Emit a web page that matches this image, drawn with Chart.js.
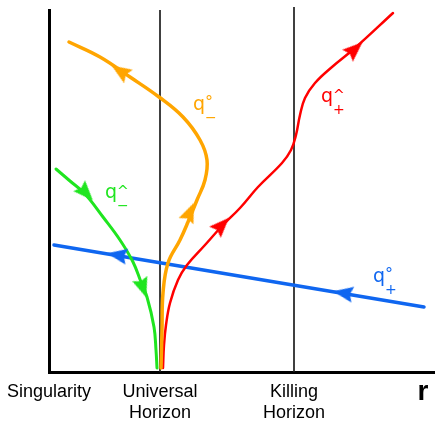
<!DOCTYPE html>
<html>
<head>
<meta charset="utf-8">
<script src="https://cdn.jsdelivr.net/npm/chart.js@4.4.0/dist/chart.umd.min.js"></script>
<style>
  html, body { margin: 0; padding: 0; background: #fff; }
  #wrap { width: 435px; height: 424px; position: relative; }
</style>
</head>
<body>
<div id="wrap"><canvas id="c"></canvas></div>
<script>
// ---- data (r: radial coordinate, t: vertical coordinate) ----
const tickValues = [0, 111, 245, 374];
const tickLabels = ['Singularity', ['Universal', 'Horizon'], ['Killing', 'Horizon'], 'r'];

const universalHorizon = [{x: 111, y: 0}, {x: 111, y: 362}];
const killingHorizon   = [{x: 245, y: 0}, {x: 245, y: 365}];

const qMinusCirc = [ // orange
  {x: 20, y: 330}, {x: 51, y: 315}, {x: 81, y: 295}, {x: 110, y: 275}, {x: 134, y: 255},
  {x: 151, y: 232}, {x: 158, y: 212}, {x: 156, y: 192}, {x: 148, y: 172}, {x: 139, y: 150},
  {x: 131, y: 132}, {x: 119, y: 109}, {x: 114, y: 79}, {x: 113, y: 42}, {x: 112, y: 4}
];
const qMinusHat = [ // green
  {x: 7, y: 203}, {x: 21, y: 191}, {x: 36, y: 178}, {x: 54, y: 155}, {x: 71, y: 132},
  {x: 84, y: 110}, {x: 92, y: 90}, {x: 98, y: 75}, {x: 105, y: 45}, {x: 107, y: 22}, {x: 108, y: 4}
];
const qPlusHat = [ // red
  {x: 114, y: 4}, {x: 115, y: 27}, {x: 117, y: 47}, {x: 121, y: 69}, {x: 129, y: 92},
  {x: 138, y: 107}, {x: 156, y: 127}, {x: 173, y: 146}, {x: 191, y: 164}, {x: 209, y: 185},
  {x: 233, y: 209}, {x: 242, y: 222}, {x: 247, y: 237}, {x: 251, y: 257}, {x: 256, y: 274},
  {x: 266, y: 289}, {x: 283, y: 305}, {x: 306, y: 324}, {x: 344, y: 359}
];
const qPlusCirc = [ // blue
  {x: 5, y: 127}, {x: 375, y: 65}
];

// arrow heads: position on curve and heading (degrees, clockwise from up)
const arrowsOrange = [{x: 71, y: 301}, {x: 141, y: 160}];
const arrowsOrangeDir = [-57, 23];
const arrowsGreen = [{x: 37, y: 179}, {x: 94, y: 84}];
const arrowsGreenDir = [137, 161];
const arrowsRed = [{x: 173, y: 147}, {x: 306, y: 323}];
const arrowsRedDir = [44, 48];
const arrowsBlue = [{x: 68, y: 117}, {x: 294, y: 79}];
const arrowsBlueDir = [-80, -80];

// curve labels
const curveLabels = [
  {sup: '°', sub: '−', color: 'orange', x: 144, y: 262},
  {sup: '^', sub: '−', color: 'green',  x: 56,  y: 174},
  {sup: '^', sub: '+', color: 'red',    x: 272, y: 270},
  {sup: '°', sub: '+', color: 'blue',   x: 324, y: 90}
];

// ---- styles ----
const COLORS = { orange: '#FFA500', green: '#1FE51F', red: '#FF0000', blue: '#0F66F0' };
const FONT = "'Liberation Sans', Arial, sans-serif";

function makeArrow(color) {
  const c = document.createElement('canvas');
  c.width = 16; c.height = 20;
  const g = c.getContext('2d');
  g.fillStyle = color;
  g.beginPath();
  g.moveTo(8, 0);
  g.lineTo(16, 20);
  g.lineTo(8, 17);
  g.lineTo(0, 20);
  g.closePath();
  g.fill();
  return c;
}

function curve(data, color, width) {
  return { data, showLine: true, borderColor: color, borderWidth: width, pointRadius: 0,
           tension: 0.4, borderCapStyle: 'round', borderJoinStyle: 'round', fill: false, order: 5 };
}
function arrows(data, dirs, color) {
  return { data, showLine: false, pointStyle: makeArrow(color), pointRadius: 5,
           pointRotation: dirs, order: 0 };
}
function horizon(data) {
  return { data, showLine: true, borderColor: 'rgba(30,30,30,0.85)', borderWidth: 2,
           pointRadius: 0, tension: 0, clip: false, order: 10 };
}

const labelPlugin = {
  id: 'curveLabels',
  afterDatasetsDraw(chart) {
    const {ctx, scales: {x, y}} = chart;
    ctx.save();
    curveLabels.forEach(l => {
      const px = x.getPixelForValue(l.x);
      const py = y.getPixelForValue(l.y);
      ctx.fillStyle = COLORS[l.color];
      ctx.font = "19px 'DejaVu Sans', sans-serif";
      ctx.textBaseline = 'alphabetic';
      ctx.textAlign = 'left';
      ctx.fillText('q', px, py);
      const w = ctx.measureText('q').width;
      ctx.textBaseline = 'middle';
      ctx.font = (l.sup === '°' ? "16px" : "14px") + " 'DejaVu Sans', sans-serif";
      ctx.fillText(l.sup, px + w, py - (l.sup === '°' ? 7 : 6));
      ctx.font = "14px 'DejaVu Sans', sans-serif";
      ctx.fillText(l.sub, px + w, py + 8);
    });
    ctx.restore();
  }
};

new Chart(document.getElementById('c'), {
  type: 'scatter',
  data: {
    datasets: [
      horizon(universalHorizon),
      horizon(killingHorizon),
      curve(qMinusCirc, COLORS.orange, 3.5),
      curve(qMinusHat, COLORS.green, 3),
      curve(qPlusHat, COLORS.red, 2.5),
      curve(qPlusCirc, COLORS.blue, 3.5),
      arrows(arrowsOrange, arrowsOrangeDir, COLORS.orange),
      arrows(arrowsGreen, arrowsGreenDir, COLORS.green),
      arrows(arrowsRed, arrowsRedDir, COLORS.red),
      arrows(arrowsBlue, arrowsBlueDir, COLORS.blue)
    ]
  },
  options: {
    responsive: true,
    maintainAspectRatio: false,
    animation: false,
    layout: { autoPadding: false, padding: { left: 49, top: 10, right: 0, bottom: 0 } },
    plugins: { legend: { display: false }, tooltip: { enabled: false } },
    scales: {
      x: {
        type: 'linear', min: 0, max: 386,
        grid: { display: true, drawOnChartArea: false, drawTicks: true, tickLength: 10, color: 'rgba(0,0,0,0)' },
        border: { display: true, color: '#000', width: 3 },
        afterBuildTicks: (s) => { s.ticks = tickValues.map(v => ({ value: v })); },
        afterFit: (s) => { s.height = 52; s.paddingLeft = 0; s.paddingRight = 0; },
        ticks: {
          autoSkip: false, maxRotation: 0, minRotation: 0, padding: 0,
          color: '#000',
          callback: (v, i) => tickLabels[i],
          font: (ctx) => ctx.index === 3
            ? { family: FONT, size: 28, weight: 'bold', lineHeight: '21px' }
            : { family: FONT, size: 18, lineHeight: '21px' }
        }
      },
      y: {
        type: 'linear', min: 0, max: 362,
        grid: { display: false, drawTicks: false },
        border: { display: true, color: '#000', width: 3 },
        ticks: { display: false },
        afterFit: (s) => { s.width = 0; s.paddingTop = 0; s.paddingBottom = 0; }
      }
    }
  },
  plugins: [labelPlugin]
});
</script>
</body>
</html>
